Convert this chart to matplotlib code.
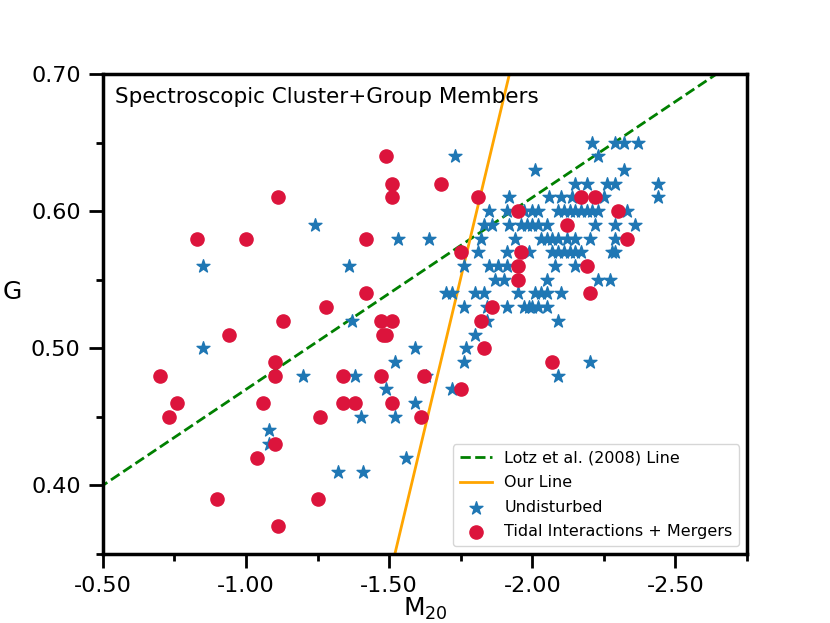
import numpy as np
import matplotlib
matplotlib.use('Agg')
import matplotlib.pyplot as plt
from matplotlib.ticker import MultipleLocator, FormatStrFormatter

plt.rcParams['axes.unicode_minus'] = False

# Undisturbed galaxies (M20, G)
und_m20 = [-0.85, -0.85, -1.08, -1.08, -1.20, -1.24, -1.32, -1.36, -1.37, -1.38,
           -1.40, -1.41, -1.49, -1.52, -1.52, -1.53, -1.56, -1.59, -1.59, -1.63,
           -1.64, -1.72, -1.73, -1.76, -1.77, -1.80, -1.84, -2.09, -2.20,
           -2.09,
           # G = 0.53
           -1.76, -1.84, -1.91, -1.97, -1.99, -2.00, -2.02, -2.05,
           # G = 0.54
           -1.70, -1.72, -1.80, -1.83, -1.95, -2.01, -2.03, -2.05, -2.10,
           # G = 0.55
           -1.87, -1.90, -2.05, -2.23, -2.27,
           # G = 0.56
           -1.76, -1.85, -1.88, -1.91, -2.08, -2.15,
           # G = 0.57
           -1.81, -1.91, -1.99, -2.07, -2.09, -2.11, -2.13, -2.15, -2.17, -2.28, -2.29,
           # G = 0.58
           -1.82, -1.94, -2.03, -2.05, -2.07, -2.09, -2.12, -2.15, -2.20, -2.29,
           # G = 0.59
           -1.83, -1.86, -1.92, -1.96, -1.98, -2.00, -2.02, -2.05, -2.22, -2.29, -2.36,
           # G = 0.60
           -1.85, -1.91, -1.97, -2.00, -2.02, -2.09, -2.11, -2.13, -2.15, -2.17,
           -2.19, -2.21, -2.23, -2.33,
           # G = 0.61
           -1.92, -2.06, -2.10, -2.14, -2.25, -2.44,
           # G = 0.62
           -2.15, -2.19, -2.26, -2.29, -2.44,
           # G = 0.63 .. 0.65
           -2.01, -2.32, -2.23, -2.21, -2.29, -2.32, -2.37]
und_g = [0.56, 0.50, 0.44, 0.43, 0.48, 0.59, 0.41, 0.56, 0.52, 0.48,
         0.45, 0.41, 0.47, 0.49, 0.45, 0.58, 0.42, 0.50, 0.46, 0.48,
         0.58, 0.47, 0.64, 0.49, 0.50, 0.51, 0.52, 0.48, 0.49,
         0.52,
         0.53, 0.53, 0.53, 0.53, 0.53, 0.53, 0.53, 0.53,
         0.54, 0.54, 0.54, 0.54, 0.54, 0.54, 0.54, 0.54, 0.54,
         0.55, 0.55, 0.55, 0.55, 0.55,
         0.56, 0.56, 0.56, 0.56, 0.56, 0.56,
         0.57, 0.57, 0.57, 0.57, 0.57, 0.57, 0.57, 0.57, 0.57, 0.57, 0.57,
         0.58, 0.58, 0.58, 0.58, 0.58, 0.58, 0.58, 0.58, 0.58, 0.58,
         0.59, 0.59, 0.59, 0.59, 0.59, 0.59, 0.59, 0.59, 0.59, 0.59, 0.59,
         0.60, 0.60, 0.60, 0.60, 0.60, 0.60, 0.60, 0.60, 0.60, 0.60,
         0.60, 0.60, 0.60, 0.60,
         0.61, 0.61, 0.61, 0.61, 0.61, 0.61,
         0.62, 0.62, 0.62, 0.62, 0.62,
         0.63, 0.63, 0.64, 0.65, 0.65, 0.65, 0.65]

# Tidal interactions + mergers (M20, G)
mer_m20 = [-0.70, -0.73, -0.76, -0.83, -0.90, -0.94, -1.00, -1.04, -1.06, -1.10,
           -1.10, -1.10, -1.11, -1.11, -1.13, -1.25, -1.26, -1.28, -1.34, -1.34,
           -1.38, -1.42, -1.42, -1.47, -1.47, -1.48, -1.49, -1.49, -1.51, -1.51,
           -1.51, -1.51, -1.61, -1.62, -1.68, -1.75, -1.75, -1.81, -1.82, -1.83,
           -1.86, -1.95, -1.96, -1.95, -1.95, -2.07, -2.12, -2.17, -2.19, -2.20,
           -2.22, -2.30, -2.33]
mer_g = [0.48, 0.45, 0.46, 0.58, 0.39, 0.51, 0.58, 0.42, 0.46, 0.49,
         0.48, 0.43, 0.61, 0.37, 0.52, 0.39, 0.45, 0.53, 0.48, 0.46,
         0.46, 0.58, 0.54, 0.52, 0.48, 0.51, 0.51, 0.64, 0.62, 0.61,
         0.52, 0.46, 0.45, 0.48, 0.62, 0.57, 0.47, 0.61, 0.52, 0.50,
         0.53, 0.60, 0.57, 0.56, 0.55, 0.49, 0.59, 0.61, 0.56, 0.54,
         0.61, 0.60, 0.58]

# dividing lines G = a*M20 + b
lotz_a, lotz_b = -0.14, 0.33
our_a, our_b = -0.875, -0.98

fig = plt.figure(figsize=(8.3, 6.23), dpi=100)
ax = fig.add_axes([0.124, 0.111, 0.776, 0.770])

xx = np.linspace(-0.4, -2.9, 50)
ax.plot(xx, lotz_a*xx + lotz_b, '--', color='green', lw=2, label='Lotz et al. (2008) Line')
ax.plot(xx, our_a*xx + our_b, '-', color='orange', lw=2, label='Our Line')
ax.scatter(und_m20, und_g, marker='*', s=95, color='#1f77b4', label='Undisturbed', zorder=3)
ax.scatter(mer_m20, mer_g, marker='o', s=90, color='crimson', label='Tidal Interactions + Mergers', zorder=3)

ax.set_xlim(-0.5, -2.75)
ax.set_ylim(0.35, 0.70)
ax.xaxis.set_major_locator(MultipleLocator(0.5))
ax.xaxis.set_minor_locator(MultipleLocator(0.25))
ax.yaxis.set_major_locator(MultipleLocator(0.1))
ax.yaxis.set_minor_locator(MultipleLocator(0.05))
ax.xaxis.set_major_formatter(FormatStrFormatter('%.2f'))
ax.yaxis.set_major_formatter(FormatStrFormatter('%.2f'))
ax.tick_params(which='major', length=10, width=2, labelsize=16, pad=6)
ax.tick_params(which='minor', length=5, width=2)
for sp in ax.spines.values():
    sp.set_linewidth(2.5)

ax.set_xlabel('M$_{20}$', fontsize=18, labelpad=0)
ax.set_ylabel('G', fontsize=18, rotation=0)
ax.yaxis.set_label_coords(-0.14, 0.52)
ax.text(0.019, 0.952, 'Spectroscopic Cluster+Group Members', transform=ax.transAxes,
        fontsize=15.5, va='center', ha='left')

ax.legend(loc='lower right', fontsize=11.5, scatterpoints=1, labelspacing=0.6)

fig.savefig('out.png', dpi=100)
